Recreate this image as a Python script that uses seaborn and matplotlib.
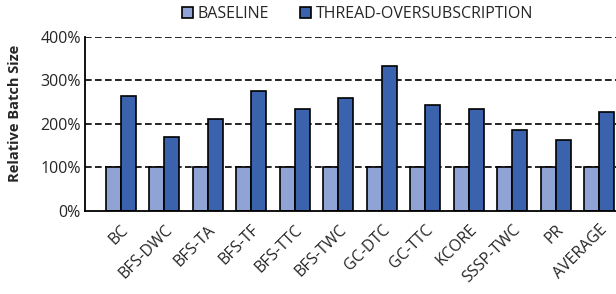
import matplotlib
matplotlib.use("Agg")
import matplotlib.pyplot as plt
import matplotlib.ticker as mtick
import pandas as pd
import seaborn as sns

benchmarks = ['BC', 'BFS-DWC', 'BFS-TA', 'BFS-TF', 'BFS-TTC', 'BFS-TWC',
              'GC-DTC', 'GC-TTC', 'KCORE', 'SSSP-TWC', 'PR', 'AVERAGE']
baseline = [100, 100, 100, 100, 100, 100, 100, 100, 100, 100, 100, 100]
oversub = [264, 169, 211, 276, 234, 259, 333, 243, 234, 185, 162, 227]
series = ['BASELINE', 'THREAD-OVERSUBSCRIPTION']
colors = ['#8FA3D5', '#3B63AD']

df = pd.DataFrame({
    'bench': benchmarks * 2,
    'value': baseline + oversub,
    'series': [series[0]] * len(benchmarks) + [series[1]] * len(benchmarks),
})

sns.set_style('white')
plt.rcParams['font.family'] = ['Open Sans', 'DejaVu Sans']

fig = plt.figure(figsize=(6.16, 2.94), dpi=100)
ax = fig.add_axes([0.138, 0.283, 0.862, 0.591])

sns.barplot(data=df, x='bench', y='value', hue='series', palette=colors,
            saturation=1, width=0.69, edgecolor='black', linewidth=1.2,
            ax=ax, legend=True)

ax.set_ylim(0, 400)
ax.set_xlim(-0.82, 11.38)
ax.set_yticks([0, 100, 200, 300, 400])
ax.yaxis.set_major_formatter(mtick.FuncFormatter(lambda v, p: f'{int(v)}%'))
for y in [100, 200, 300, 400]:
    ax.axhline(y, color='black', linestyle=(0, (4, 2)), linewidth=1.2, zorder=0)

for s in ['top', 'right']:
    ax.spines[s].set_visible(False)
for s in ['left', 'bottom']:
    ax.spines[s].set_color('black')
    ax.spines[s].set_linewidth(1.3)

ax.set_xlabel('')
ax.set_ylabel('Relative Batch Size', fontsize=10.5, fontweight='bold')
ax.yaxis.set_label_coords(-0.118, 0.563)
ax.tick_params(axis='y', labelsize=11.5, length=0, pad=3)
ax.tick_params(axis='x', labelsize=11.5, length=0, pad=8)
for lab in ax.get_xticklabels():
    lab.set_rotation(45)
    lab.set_ha('right')
    lab.set_rotation_mode('anchor')

ax.legend(loc='center', bbox_to_anchor=(0.513, 1.13), ncol=2, frameon=False,
          fontsize=11.5, handlelength=0.7, handleheight=0.7, handletextpad=0.3,
          columnspacing=1.9, borderaxespad=0)

fig.savefig('out.png', dpi=100)
